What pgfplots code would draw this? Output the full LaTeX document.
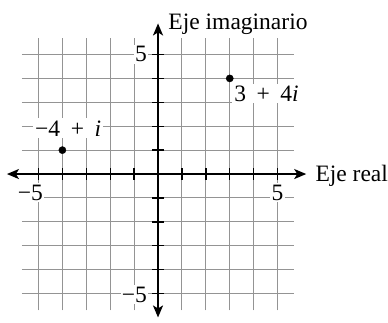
\documentclass[border=0pt]{standalone}
\usepackage{fontspec}
\setmainfont{Liberation Serif}
\usepackage{pgfplots}
\pgfplotsset{compat=1.18}
\usetikzlibrary{arrows.meta}

\begin{document}
\begin{tikzpicture}[font=\fontsize{23.5}{28}\selectfont]
\begin{axis}[
  x=23.9pt, y=23.9pt,
  xmin=-5.7, xmax=5.7, ymin=-5.7, ymax=5.7,
  xtick={-5,...,5}, ytick={-5,...,5},
  xticklabels={}, yticklabels={},
  grid=major,
  major grid style={draw=black!42, line width=1.1pt},
  axis line style={draw=none},
  tick style={draw=none},
  clip=false,
  every node/.style={inner sep=0pt},
]
% real and imaginary axes
\addplot[black, line width=1.8pt, {Stealth[length=12pt,width=10pt,inset=3pt]}-{Stealth[length=12pt,width=10pt,inset=3pt]}]
  coordinates {(-6.32,0) (6.2,0)};
\addplot[black, line width=1.8pt, {Stealth[length=12pt,width=10pt,inset=3pt]}-{Stealth[length=12pt,width=10pt,inset=3pt]}]
  coordinates {(0,-6.0) (0,6.3)};
% tick marks on the axes
\addplot[only marks, mark=|, mark size=6pt, mark options={line width=1.4pt, black}]
  coordinates {(-5,0) (-4,0) (-3,0) (-2,0) (-1,0) (1,0) (2,0) (3,0) (4,0) (5,0)};
\addplot[only marks, mark=-, mark size=6pt, mark options={line width=1.4pt, black}]
  coordinates {(0,-5) (0,-4) (0,-3) (0,-2) (0,-1) (0,1) (0,2) (0,3) (0,4) (0,5)};
% tick labels
\node[anchor=base east, fill=white, inner xsep=1pt, inner ysep=2pt] at (axis cs:-4.77,-1.09) {−5};
\node[anchor=base, fill=white, inner xsep=2pt, inner ysep=2pt] at (axis cs:5,-1.09) {5};
\node[anchor=base east, fill=white, inner xsep=1pt, inner ysep=2pt] at (axis cs:-0.42,4.69) {5};
\node[anchor=base east, fill=white, inner xsep=1pt, inner ysep=2pt] at (axis cs:-0.42,-5.36) {−5};
% axis titles
\node[anchor=base west] at (axis cs:6.44,-0.33) {Eje real};
\node[anchor=base west] at (axis cs:0.29,6.03) {Eje imaginario};
% the two complex numbers
\node[anchor=base west, fill=white, inner xsep=2pt, inner ysep=2pt] at (axis cs:-5.23,1.59) {−4\hspace{0.45em}+\hspace{0.45em}\textit{i}};
\node[anchor=base west, fill=white, inner xsep=2pt, inner ysep=2pt] at (axis cs:3.1,3.05) {3\hspace{0.45em}+\hspace{0.45em}4\textit{i}};
\addplot[only marks, mark=*, mark size=3.6pt, black]
  coordinates {(-4,1) (3,4)};
% picture frame
\coordinate (bl) at (axis cs:-6.61,-6.23);
\coordinate (tr) at (axis cs:9.62,7.28);
\end{axis}
\pgfresetboundingbox
\path (bl) rectangle (tr);
\end{tikzpicture}
\end{document}
